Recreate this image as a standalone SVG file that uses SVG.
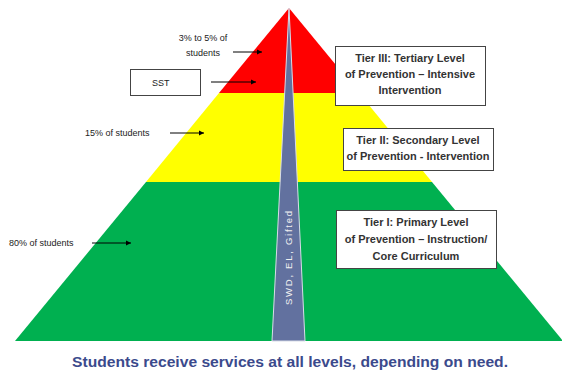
<svg xmlns="http://www.w3.org/2000/svg" width="562" height="375" viewBox="0 0 562 375">
<style>
.lbl{font-family:"Liberation Sans",Arial,sans-serif;font-size:9px;fill:#222}
.box{fill:#fff;stroke:#444;stroke-width:1}
.bt{font-family:"Liberation Sans",Arial,sans-serif;font-size:11px;font-weight:bold;fill:#333;text-anchor:middle}
.arr{stroke:#000;stroke-width:1;fill:none;marker-end:url(#ah)}
</style>
<defs>
<marker id="ah" markerWidth="6" markerHeight="6" refX="5" refY="3" orient="auto" markerUnits="userSpaceOnUse">
<path d="M0,0.5 L5,3 L0,5.5 Z" fill="#000"/>
</marker>
</defs>
<rect width="562" height="375" fill="#fff"/>
<g id="pyramid">
<polygon points="289,8 219,93 359,93" fill="#ff0000"/>
<polygon points="219,93 359,93 432,182 146,182" fill="#ffff00"/>
<polygon points="146,182 432,182 563,341 15,341" fill="#00b050"/>
</g>
<g id="strip">
<polygon points="289,8 272,341 305,341" fill="#62719f" stroke="#d8dce8" stroke-width="1"/>
<text transform="translate(292,258) rotate(-90)" text-anchor="middle" font-family="'Liberation Sans',Arial,sans-serif" font-size="9.5" fill="#f0f0f0" textLength="94">SWD,  EL,  Gifted</text>
</g>
<g id="sst">
<rect class="box" x="130.5" y="69.5" width="70" height="26"/>
<text x="152" y="86" class="lbl" font-size="10">SST</text>
</g>
<g id="pct3">
<text x="203" y="41" class="lbl" text-anchor="middle">3% to 5% of</text>
<text x="203" y="56" class="lbl" text-anchor="middle">students</text>
</g>
<g id="pct15"><text x="85" y="136" class="lbl">15% of students</text></g>
<g id="pct80"><text x="9" y="246" class="lbl">80% of students</text></g>
<g id="connectors">
<line class="arr" x1="233" y1="52" x2="262" y2="52"/>
<line class="arr" x1="211" y1="82" x2="256" y2="82"/>
<line class="arr" x1="170" y1="133" x2="204" y2="133"/>
<line class="arr" x1="92" y1="243" x2="131" y2="243"/>
</g>
<g id="tier3">
<rect class="box" x="335.5" y="46.5" width="150" height="59"/>
<text class="bt" x="410" y="62">Tier III: Tertiary Level</text>
<text class="bt" x="410" y="78">of Prevention – Intensive</text>
<text class="bt" x="410" y="94">Intervention</text>
</g>
<g id="tier2">
<rect class="box" x="343.5" y="128.5" width="150" height="42"/>
<text class="bt" x="418" y="144">Tier II: Secondary Level</text>
<text class="bt" x="418" y="160">of Prevention - Intervention</text>
</g>
<g id="tier1">
<rect class="box" x="336.5" y="210.5" width="160" height="58"/>
<text class="bt" x="416" y="226">Tier I: Primary Level</text>
<text class="bt" x="416" y="243">of Prevention – Instruction/</text>
<text class="bt" x="416" y="260">Core Curriculum</text>
</g>
<g id="caption">
<text x="290" y="367" text-anchor="middle" font-family="'Liberation Sans',Arial,sans-serif" font-size="14" font-weight="bold" fill="#3b4a8c" textLength="436" lengthAdjust="spacingAndGlyphs">Students receive services at all levels, depending on need.</text>
</g>
</svg>
